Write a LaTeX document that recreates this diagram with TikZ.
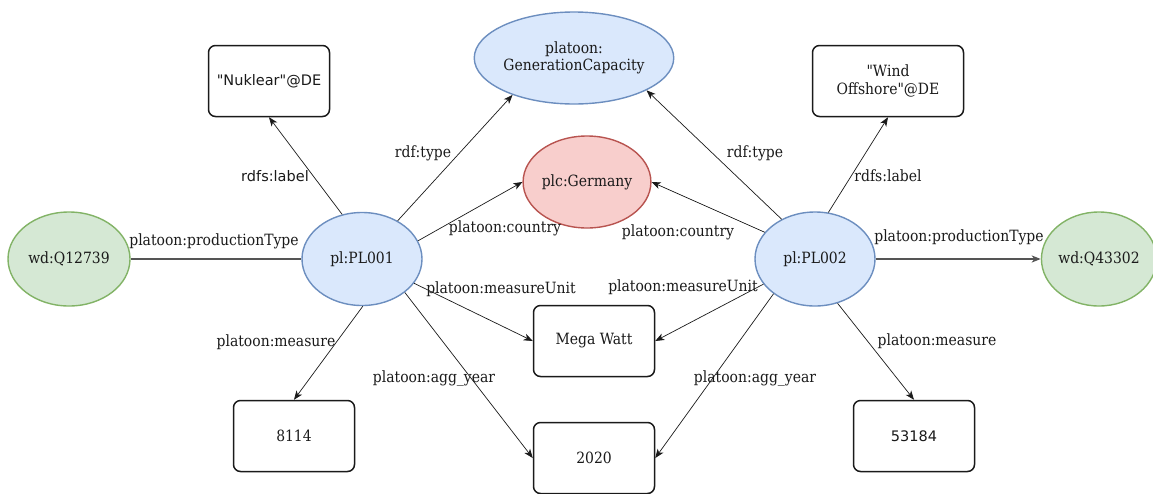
\documentclass[tikz,border=0pt]{standalone}
\usepackage{fontspec}
\setmainfont[FakeStretch=0.9,Ligatures=TeXOff]{DejaVu Serif}
\setsansfont[Ligatures=TeXOff]{DejaVu Sans}
\usetikzlibrary{shapes.geometric,arrows.meta}
\definecolor{resfill}{HTML}{DAE8FC}
\definecolor{resline}{HTML}{6C8EBF}
\definecolor{countryfill}{HTML}{F8CECC}
\definecolor{countryline}{HTML}{B85450}
\definecolor{extfill}{HTML}{D5E8D4}
\definecolor{extline}{HTML}{82B366}
\definecolor{ink}{HTML}{1A1A1A}
\definecolor{thick}{HTML}{555555}
\begin{document}
\begin{tikzpicture}[x=1pt,y=-1pt,
  every node/.style={text=ink, font=\fontsize{15.5}{17.5}\selectfont},
  oval/.style={ellipse, inner sep=0pt, line width=1.4pt, align=center},
  res/.style={oval, draw=resline, fill=resfill, minimum width=120pt, minimum height=93pt},
  country/.style={oval, draw=countryline, fill=countryfill, minimum width=120pt, minimum height=92pt},
  ext/.style={oval, draw=extline, fill=extfill, minimum width=120pt, minimum height=94pt},
  lit/.style={rectangle, rounded corners=7pt, draw=ink, line width=1.5pt, fill=white,
              minimum width=121pt, minimum height=71pt, inner sep=0pt, align=center},
  rel/.style={draw=ink, line width=0.7pt, -{Stealth[length=9pt,width=7pt,inset=2.5pt]}},
  prop/.style={draw=thick, line width=1.6pt},
  lbl/.style={inner sep=0pt, anchor=center},
  sansfont/.style={font=\sffamily\fontsize{14.5}{17}\selectfont},
]
\useasboundingbox (0,0) rectangle (1153,493);

% class, country and external entities
\node[res, minimum width=160pt, minimum height=92pt] (gencap) at (574,58) {platoon:\\GenerationCapacity};
\node[country] (germany) at (587,182) {plc:Germany};
\node[ext, minimum width=122pt] (q12739) at (69,259) {wd:Q12739};
\node[ext, minimum width=114pt] (q43302) at (1099,259) {wd:Q43302};

% the two power plants
\node[res] (pl001) at (362,259) {pl:PL001};
\node[res, minimum height=94pt] (pl002) at (815,259) {pl:PL002};

% literal values
\node[lit, sansfont] (nuklear) at (269,81) {"Nuklear"@DE};
\node[lit, minimum width=151pt] (wind) at (888,81) {"Wind\\Offshore"@DE};
\node[lit] (mw) at (594,341) {Mega Watt};
\node[lit] (v8114) at (294,436) {8114};
\node[lit] (y2020) at (594,458) {2020};
\node[lit, sansfont] (v53184) at (914,436) {53184};

% properties of pl:PL001
\draw[prop] (q12739.east) -- (pl001.west);
\draw[rel] (pl001.114) -- (nuklear.south);
\draw[rel] (pl001.47) -- (gencap.211);
\draw[rel] (pl001.18) -- (germany.west);
\draw[rel] (pl001.-25) -- (mw.west);
\draw[rel] (pl001.-89) -- (v8114.north);
\draw[rel] (pl001.-38) -- (y2020.west);

% properties of pl:PL002
\draw[prop, -{Stealth[length=9pt,width=7pt,inset=2.5pt]}] (pl002.east) -- (q43302.west);
\draw[rel] (pl002.130) -- (gencap.-24);
\draw[rel] (pl002.74) -- (wind.south);
\draw[rel] (pl002.152) -- (germany.east);
\draw[rel] (pl002.206) -- (mw.east);
\draw[rel] (pl002.220) -- (y2020.east);
\draw[rel] (pl002.-63) -- (v53184.north);

% property labels
\node[lbl] (l1) at (214,241) {platoon:productionType};
\node[lbl] (l2) at (959,237) {platoon:productionType};
\node[lbl, sansfont] (l3) at (275,176) {rdfs:label};
\node[lbl] (l4) at (888,176) {rdfs:label};
\node[lbl] (l5) at (423,153) {rdf:type};
\node[lbl] (l6) at (755,153) {rdf:type};
\node[lbl] (l7) at (505,228) {platoon:country};
\node[lbl] (l8) at (678,232) {platoon:country};
\node[lbl] (l9) at (501,289) {platoon:measureUnit};
\node[lbl] (l10) at (683,287) {platoon:measureUnit};
\node[lbl] (l11) at (276,342) {platoon:measure};
\node[lbl] (l12) at (937,341) {platoon:measure};
\node[lbl] (l13) at (434,378) {platoon:agg\_year};
\node[lbl] (l14) at (755,378) {platoon:agg\_year};
\end{tikzpicture}
\end{document}
